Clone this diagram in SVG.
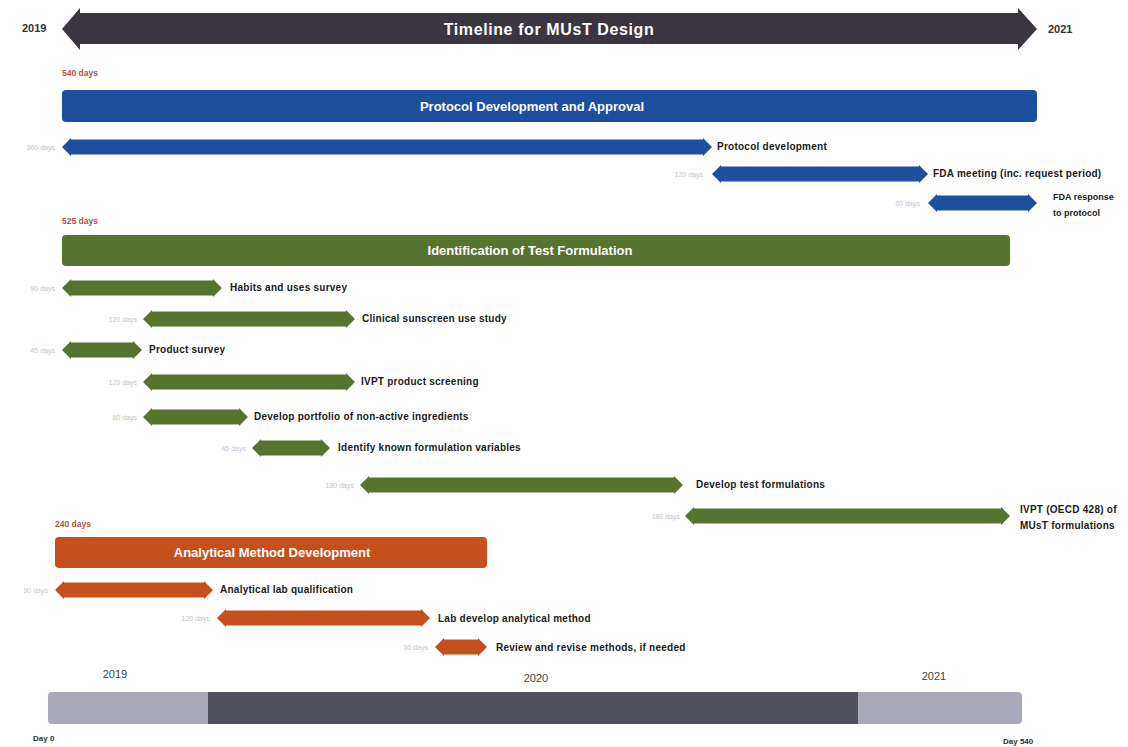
<svg xmlns="http://www.w3.org/2000/svg" width="1128" height="747" viewBox="0 0 1128 747">
<style>
text{font-family:"Liberation Sans",Arial,sans-serif}
.yr{font-size:11px;font-weight:bold;fill:#333}
.red{font-size:8.5px;fill:#b4504a;font-weight:bold}
.hdr{font-size:13px;font-weight:bold;fill:#fff}
.lbl{font-size:10px;font-weight:bold;fill:#1a1a1a;letter-spacing:0.25px}
.dur{font-size:7px;fill:#c4c4c8;text-anchor:end}
.blue{fill:#1d4f9e}
.green{fill:#56732f}
.orange{fill:#c6501c}
.axis{font-size:11px;fill:#444}
.day{font-size:8px;font-weight:bold;fill:#333}
</style>
<rect width="1128" height="747" fill="#fff"/>

<g id="title">
<polygon points="62,29 80,8 80,13 1018,13 1018,8 1037,29 1018,50 1018,44 80,44 80,50" fill="#3b3540"/>
<text x="549" y="35" text-anchor="middle" style="font-size:16px;font-weight:bold;fill:#fff;letter-spacing:0.6px">Timeline for MUsT Design</text>
<text x="22" y="32" class="yr">2019</text>
<text x="1048" y="33" class="yr">2021</text>
</g>

<g id="protocol">
<text x="62" y="76" class="red">540 days</text>
<rect x="62" y="90" width="975" height="32" rx="4" class="blue"/>
<text x="532" y="111" text-anchor="middle" class="hdr">Protocol Development and Approval</text>
</g>
<g id="protocol-development">
<polygon class="blue" points="62,147 71,138 71,139.5 703,139.5 703,138 712,147 703,156 703,154.5 71,154.5 71,156"/>
<text x="55" y="150" class="dur">360 days</text>
<text x="717" y="150" class="lbl">Protocol development</text>
</g>
<g id="fda-meeting">
<polygon class="blue" points="712,174 721,165 721,166.5 919,166.5 919,165 928,174 919,183 919,181.5 721,181.5 721,183"/>
<text x="703" y="177" class="dur">120 days</text>
<text x="933" y="177" class="lbl">FDA meeting (inc. request period)</text>
</g>
<g id="fda-response">
<polygon class="blue" points="928,203 937,194 937,195.5 1028,195.5 1028,194 1037,203 1028,212 1028,210.5 937,210.5 937,212"/>
<text x="920" y="206" class="dur">60 days</text>
<text x="1053" y="200" class="lbl" style="font-size:9px;letter-spacing:0">FDA response</text>
<text x="1053" y="216" class="lbl" style="font-size:9px;letter-spacing:0">to protocol</text>
</g>

<g id="identification">
<text x="62" y="224" class="red">525 days</text>
<rect x="62" y="235" width="948" height="31" rx="4" class="green"/>
<text x="530" y="255" text-anchor="middle" class="hdr">Identification of Test Formulation</text>
</g>
<g id="habits">
<polygon class="green" points="62,288 71,279 71,280.5 213,280.5 213,279 222,288 213,297 213,295.5 71,295.5 71,297"/>
<text x="55" y="291" class="dur">90 days</text>
<text x="230" y="291" class="lbl">Habits and uses survey</text>
</g>
<g id="clinical">
<polygon class="green" points="143,319 152,310 152,311.5 346,311.5 346,310 355,319 346,328 346,326.5 152,326.5 152,328"/>
<text x="137" y="322" class="dur">120 days</text>
<text x="362" y="322" class="lbl">Clinical sunscreen use study</text>
</g>
<g id="product-survey">
<polygon class="green" points="62,350 71,341 71,342.5 133,342.5 133,341 142,350 133,359 133,357.5 71,357.5 71,359"/>
<text x="55" y="353" class="dur">45 days</text>
<text x="149" y="353" class="lbl">Product survey</text>
</g>
<g id="ivpt-screening">
<polygon class="green" points="143,382 152,373 152,374.5 346,374.5 346,373 355,382 346,391 346,389.5 152,389.5 152,391"/>
<text x="137" y="385" class="dur">120 days</text>
<text x="361" y="385" class="lbl">IVPT product screening</text>
</g>
<g id="portfolio">
<polygon class="green" points="143,417 152,408 152,409.5 239,409.5 239,408 248,417 239,426 239,424.5 152,424.5 152,426"/>
<text x="137" y="420" class="dur">60 days</text>
<text x="254" y="420" class="lbl">Develop portfolio of non-active ingredients</text>
</g>
<g id="identify-variables">
<polygon class="green" points="252,448 261,439 261,440.5 321,440.5 321,439 330,448 321,457 321,455.5 261,455.5 261,457"/>
<text x="246" y="451" class="dur">45 days</text>
<text x="338" y="451" class="lbl">Identify known formulation variables</text>
</g>
<g id="develop-test">
<polygon class="green" points="360,485 369,476 369,477.5 674,477.5 674,476 683,485 674,494 674,492.5 369,492.5 369,494"/>
<text x="354" y="488" class="dur">180 days</text>
<text x="696" y="488" class="lbl">Develop test formulations</text>
</g>
<g id="ivpt-oecd">
<polygon class="green" points="685,516 694,507 694,508.5 1001,508.5 1001,507 1010,516 1001,525 1001,523.5 694,523.5 694,525"/>
<text x="680" y="519" class="dur">180 days</text>
<text x="1020" y="513" class="lbl">IVPT (OECD  428) of</text>
<text x="1020" y="529" class="lbl">MUsT formulations</text>
</g>

<g id="analytical">
<text x="55" y="527" class="red">240 days</text>
<rect x="55" y="537" width="432" height="31" rx="4" class="orange"/>
<text x="272" y="557" text-anchor="middle" class="hdr">Analytical  Method Development</text>
</g>
<g id="lab-qualification">
<polygon class="orange" points="55,590 64,581 64,582.5 204,582.5 204,581 213,590 204,599 204,597.5 64,597.5 64,599"/>
<text x="48" y="593" class="dur">90 days</text>
<text x="220" y="593" class="lbl">Analytical lab qualification</text>
</g>
<g id="lab-develop">
<polygon class="orange" points="217,618 226,609 226,610.5 421,610.5 421,609 430,618 421,627 421,625.5 226,625.5 226,627"/>
<text x="210" y="621" class="dur">120 days</text>
<text x="438" y="622" class="lbl">Lab develop analytical method</text>
</g>
<g id="review">
<polygon class="orange" points="435,647 444,638 444,639.5 478,639.5 478,638 487,647 478,656 478,654.5 444,654.5 444,656"/>
<text x="428" y="650" class="dur">30 days</text>
<text x="496" y="651" class="lbl">Review and revise methods, if needed</text>
</g>

<g id="years-bar">
<rect x="48" y="692" width="974" height="32" rx="4" fill="#a9a9b9"/>
<rect x="208" y="692" width="650" height="32" fill="#50505e"/>
<text x="115" y="678" text-anchor="middle" class="axis">2019</text>
<text x="536" y="682" text-anchor="middle" class="axis">2020</text>
<text x="934" y="680" text-anchor="middle" class="axis">2021</text>
<text x="33" y="741" class="day">Day 0</text>
<text x="1003" y="744" class="day">Day 540</text>
</g>
</svg>
